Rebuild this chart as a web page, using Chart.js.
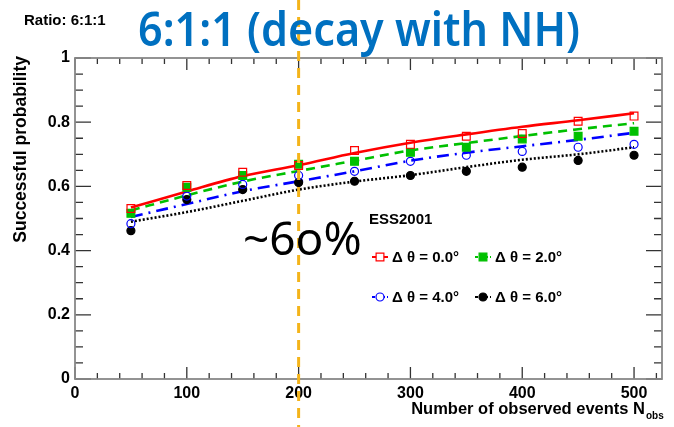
<!DOCTYPE html>
<html>
<head>
<meta charset="utf-8">
<script src="https://cdn.jsdelivr.net/npm/chart.js@4/dist/chart.umd.min.js"></script>
<style>
html, body { margin: 0; padding: 0; background: #fff; }
</style>
</head>
<body>
<canvas id="myChart" width="674" height="427"></canvas>
<script>
// number of observed events
var nObs = [50, 100, 150, 200, 250, 300, 350, 400, 450, 500];

// simulated success probability for each angular resolution
var prob00 = [0.531, 0.603, 0.644, 0.665, 0.712, 0.731, 0.756, 0.765, 0.803, 0.819];
var prob20 = [0.516, 0.597, 0.634, 0.669, 0.678, 0.706, 0.722, 0.748, 0.756, 0.772];
var prob40 = [0.484, 0.570, 0.606, 0.634, 0.647, 0.678, 0.697, 0.709, 0.722, 0.731];
var prob60 = [0.462, 0.559, 0.590, 0.612, 0.616, 0.634, 0.647, 0.660, 0.681, 0.697];

// fitted curves through each set
var fit00 = [0.534, 0.584, 0.632, 0.666, 0.704, 0.736, 0.762, 0.786, 0.806, 0.828];
var fit20 = [0.525, 0.572, 0.615, 0.648, 0.680, 0.712, 0.735, 0.757, 0.778, 0.797];
var fit40 = [0.505, 0.545, 0.585, 0.616, 0.647, 0.680, 0.705, 0.725, 0.745, 0.767];
var fit60 = [0.490, 0.520, 0.555, 0.590, 0.615, 0.635, 0.660, 0.683, 0.700, 0.722];

var seriesNames = ['\u0394 \u03b8 = 0.0\u00b0', '\u0394 \u03b8 = 2.0\u00b0', '\u0394 \u03b8 = 4.0\u00b0', '\u0394 \u03b8 = 6.0\u00b0'];
var xTicks = [0, 100, 200, 300, 400, 500];
var yTicks = [0, 0.2, 0.4, 0.6, 0.8, 1];
var cutN = 200;

function pts(ys) {
    return nObs.map(function (n, i) { return { x: n, y: ys[i] }; });
}

var styles = [
    { color: '#ff0000', shape: 'rect', fill: false, dash: [] },
    { color: '#00c000', shape: 'rect', fill: true, dash: [9, 6] },
    { color: '#0000ff', shape: 'circle', fill: false, dash: [12, 6, 2, 6] },
    { color: '#000000', shape: 'circle', fill: true, dash: [2, 2] }
];
var probs = [prob00, prob20, prob40, prob60];
var fits = [fit00, fit20, fit40, fit60];

var datasets = [];
probs.forEach(function (p, i) {
    var s = styles[i];
    datasets.push({
        label: seriesNames[i],
        data: pts(p),
        showLine: false,
        pointStyle: s.shape,
        pointRadius: s.shape === 'rect' ? 5.5 : 4,
        pointBorderWidth: 1.2,
        borderColor: s.color,
        backgroundColor: s.fill ? s.color : 'rgba(255,255,255,0)'
    });
});
fits.forEach(function (f, i) {
    var s = styles[i];
    datasets.push({
        label: seriesNames[i] + ' fit',
        data: pts(f),
        showLine: true,
        pointRadius: 0,
        borderColor: s.color,
        borderWidth: 2.6,
        borderDash: s.dash,
        cubicInterpolationMode: 'monotone'
    });
});

// ROOT-like frame with inward ticks on all four sides
var framePlugin = {
    id: 'frame',
    beforeDatasetsDraw: function (chart) {
        var c = chart.ctx, a = chart.chartArea;
        var x = chart.scales.x, y = chart.scales.y;
        c.save();
        c.strokeStyle = '#333';
        c.lineWidth = 1.3;
        c.beginPath();
        for (var v = 0; v <= 520; v += 20) {
            var px = x.getPixelForValue(v);
            var len = v % 100 === 0 ? 12 : 6;
            c.moveTo(px, a.bottom); c.lineTo(px, a.bottom - len);
            c.moveTo(px, a.top); c.lineTo(px, a.top + len);
        }
        for (var k = 0; k <= 20; k++) {
            var py = y.getPixelForValue(k * 0.05);
            var l2 = k % 4 === 0 ? 16 : 8;
            c.moveTo(a.left, py); c.lineTo(a.left + l2, py);
            c.moveTo(a.right, py); c.lineTo(a.right - l2, py);
        }
        c.stroke();
        c.strokeStyle = '#888';
        c.lineWidth = 1.8;
        c.strokeRect(a.left, a.top, a.right - a.left, a.bottom - a.top);
        c.restore();
    },
    afterDraw: function (chart) {
        var c = chart.ctx, a = chart.chartArea;
        var x = chart.scales.x;

        // cut line at N = 200
        var cx = x.getPixelForValue(cutN);
        c.save();
        c.strokeStyle = '#f4b41a';
        c.lineWidth = 3;
        c.setLineDash([10, 7]);
        c.beginPath();
        c.moveTo(cx, 0); c.lineTo(cx, chart.height);
        c.stroke();
        c.setLineDash([]);

        // headings
        c.fillStyle = '#000';
        c.font = 'bold 15px "Liberation Sans", Arial, sans-serif';
        c.textBaseline = 'alphabetic';
        c.textAlign = 'left';
        c.fillText('Ratio: 6:1:1', 24, 25);

        var title = '6:1:1 (decay with NH)';
        c.font = '600 46px "Noto Sans", sans-serif';
        var tw = c.measureText(title).width;
        c.save();
        c.translate(138, 46);
        c.scale(442 / tw, 1);
        c.fillStyle = '#0070c0';
        c.fillText(title, 0, 0);
        c.restore();

        c.font = '46px "Noto Sans", sans-serif';
        c.fillText('~6o%', 243, 255);

        // axis titles
        c.font = 'bold 16.5px "Liberation Sans", Arial, sans-serif';
        c.textAlign = 'right';
        c.fillText('Number of observed events N', 645, 414);
        c.font = 'bold 10px "Liberation Sans", Arial, sans-serif';
        c.textAlign = 'left';
        c.fillText('obs', 646, 419);

        c.save();
        c.translate(26, 56);
        c.rotate(-Math.PI / 2);
        c.font = 'bold 17.5px "Liberation Sans", Arial, sans-serif';
        c.textAlign = 'right';
        c.fillText('Successful probability', 0, 0);
        c.restore();

        // legend
        c.font = 'bold 15px "Liberation Sans", Arial, sans-serif';
        c.textAlign = 'left';
        c.fillText('ESS2001', 369, 224);
        var pos = [[380, 257], [483, 257], [380, 297], [483, 297]];
        for (var i = 0; i < 4; i++) {
            var mk = chart.data.datasets[i], ln = chart.data.datasets[i + 4];
            var mx = pos[i][0], my = pos[i][1];
            c.strokeStyle = ln.borderColor;
            c.lineWidth = 2;
            c.setLineDash(ln.borderDash.length ? [3, 2] : []);
            c.beginPath();
            c.moveTo(mx - 8, my); c.lineTo(mx + 8, my);
            c.stroke();
            c.setLineDash([]);
            c.strokeStyle = mk.borderColor;
            c.lineWidth = 1.2;
            var r = mk.pointRadius;
            c.beginPath();
            if (mk.pointStyle === 'rect') {
                var h = r * Math.SQRT1_2;
                c.rect(mx - h, my - h, 2 * h, 2 * h);
            } else {
                c.arc(mx, my, r, 0, Math.PI * 2);
            }
            c.fillStyle = styles[i].fill ? mk.borderColor : '#fff';
            c.fill();
            c.stroke();
            c.fillStyle = '#000';
            c.font = 'bold 15px "Liberation Sans", Arial, sans-serif';
            c.fillText(seriesNames[i], mx + 12, my + 5);
        }
        c.restore();
    }
};

new Chart(document.getElementById('myChart'), {
    type: 'scatter',
    data: { datasets: datasets },
    options: {
        responsive: false,
        animation: false,
        layout: { padding: { top: 58, right: 12, left: 0, bottom: 0 } },
        plugins: { legend: { display: false }, tooltip: { enabled: false } },
        scales: {
            x: {
                type: 'linear', min: 0, max: 525,
                afterBuildTicks: function (s) { s.ticks = xTicks.map(function (v) { return { value: v }; }); },
                afterFit: function (s) { s.height = 48; },
                grid: { display: false, drawTicks: false },
                border: { display: false },
                ticks: {
                    padding: 5, color: '#000', maxRotation: 0,
                    font: { family: '"Liberation Sans", Arial, sans-serif', size: 16, weight: 'bold' }
                }
            },
            y: {
                min: 0, max: 1,
                afterBuildTicks: function (s) { s.ticks = yTicks.map(function (v) { return { value: v }; }); },
                afterFit: function (s) { s.width = 75; },
                grid: { display: false, drawTicks: false },
                border: { display: false },
                ticks: {
                    padding: 5, color: '#000',
                    font: { family: '"Liberation Sans", Arial, sans-serif', size: 16, weight: 'bold' },
                    callback: function (v) { return (v === 0 || v === 1) ? String(v) : v.toFixed(1); }
                }
            }
        }
    },
    plugins: [framePlugin]
});
</script>
</body>
</html>
